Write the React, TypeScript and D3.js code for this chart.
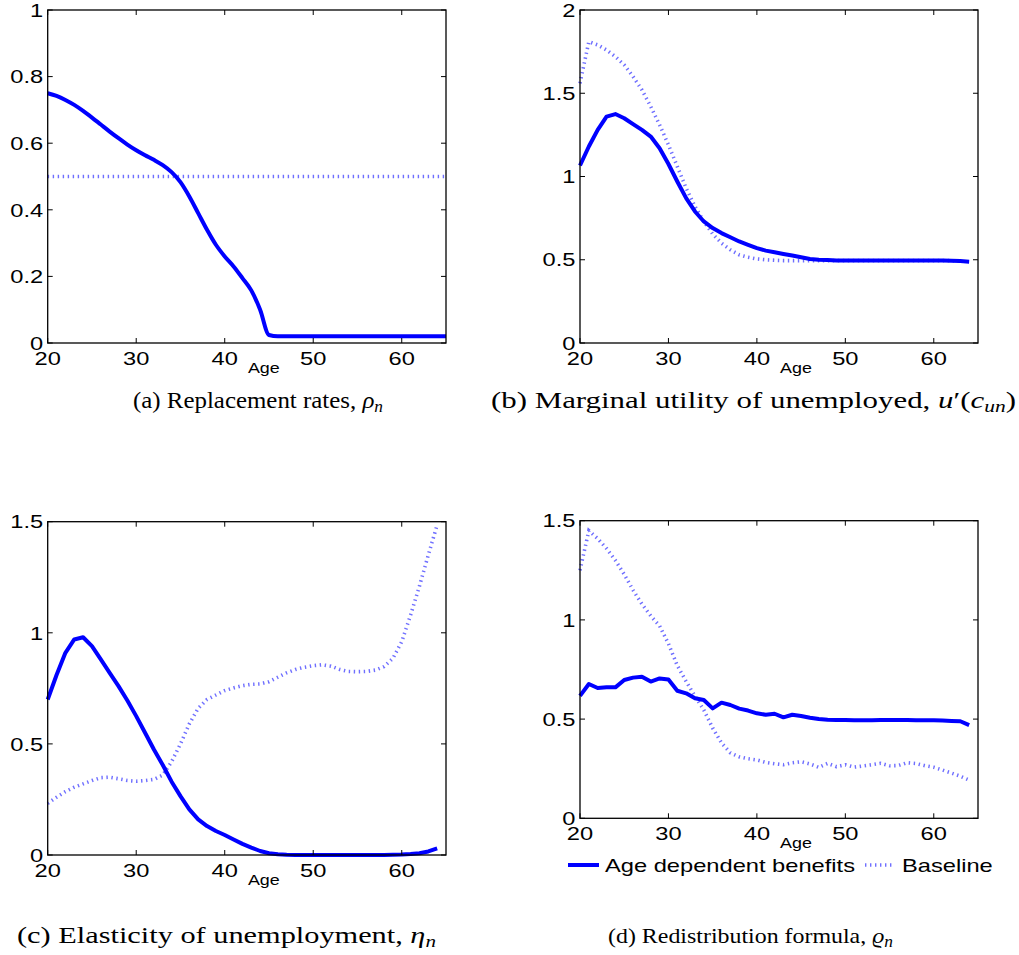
import React from "react";
import * as d3 from "d3";

// ---------- data ----------
const ages20to65 = [20,21,22,23,24,25,26,27,28,29,30,31,32,33,34,35,36,37,38,39,40,41,42,43,44,45,46,47,48,49,50,51,52,53,54,55,56,57,58,59,60,61,62,63,64,65];
const ages20to64 = [20,21,22,23,24,25,26,27,28,29,30,31,32,33,34,35,36,37,38,39,40,41,42,43,44,45,46,47,48,49,50,51,52,53,54,55,56,57,58,59,60,61,62,63,64];

// (a) Replacement rates
const replAgeDep = [0.75,0.742,0.73,0.715,0.697,0.677,0.656,0.635,0.615,0.596,0.579,0.564,0.55,0.534,0.513,0.483,0.44,0.39,0.34,0.295,0.26,0.23,0.195,0.158,0.1,0.024,
  0.02,0.02,0.02,0.02,0.02,0.02,0.02,0.02,0.02,0.02,0.02,0.02,0.02,0.02,0.02,0.02,0.02,0.02,0.02,0.02];
const replBaseline = [0.5,0.5,0.5,0.5,0.5,0.5,0.5,0.5,0.5,0.5,0.5,0.5,0.5,0.5,0.5,0.5,0.5,0.5,0.5,0.5,0.5,0.5,0.5,0.5,0.5,0.5,0.5,0.5,0.5,0.5,0.5,0.5,0.5,0.5,0.5,0.5,0.5,0.5,0.5,0.5,0.5,0.5,0.5,0.5,0.5,0.5];

// (b) Marginal utility of unemployed
const muAgeDep = [1.066,1.18,1.28,1.36,1.375,1.35,1.315,1.28,1.24,1.17,1.075,0.97,0.87,0.79,0.73,0.69,0.66,0.635,0.61,0.59,0.57,0.555,0.545,0.535,0.525,0.515,0.505,0.5,0.498,
  0.496,0.496,0.496,0.496,0.496,0.496,0.496,0.496,0.496,0.496,0.496,0.496,0.495,0.494,0.492,0.488];
const muBaseline = [1.56,1.81,1.79,1.76,1.72,1.67,1.6,1.52,1.42,1.31,1.19,1.06,0.93,0.82,0.73,0.655,0.6,0.56,0.53,0.515,0.505,0.5,0.497,
  0.495,0.495,0.495,0.495,0.495,0.495,0.495,0.495,0.495,0.495,0.495,0.495,0.495,0.495,0.495,0.495,0.495,0.495,0.495,0.495,0.49];

// (c) Elasticity of unemployment
const elAgeDep = [0.70,0.81,0.91,0.97,0.98,0.94,0.88,0.82,0.76,0.695,0.625,0.55,0.475,0.405,0.33,0.265,0.205,0.16,0.13,0.108,0.09,0.07,0.05,0.033,0.018,0.008,0.003,0.001,
  0,0,0,0,0,0,0,0,0,0,0,0.001,0.002,0.004,0.008,0.016,0.03];
const elBaseline = [0.232,0.26,0.285,0.305,0.32,0.335,0.348,0.35,0.343,0.335,0.332,0.335,0.34,0.36,0.42,0.5,0.59,0.66,0.70,0.72,0.74,0.752,0.762,0.768,0.77,0.78,0.8,0.82,0.835,0.845,0.852,0.856,0.85,0.835,0.826,0.825,0.826,0.832,0.848,0.885,0.96,1.08,1.21,1.35,1.485];

// (d) Redistribution formula
const redAgeDep = [0.617,0.677,0.657,0.66,0.66,0.697,0.709,0.714,0.689,0.705,0.70,0.643,0.63,0.605,0.596,0.554,0.583,0.571,0.553,0.543,0.529,0.522,0.527,0.509,0.522,0.516,0.507,0.5,0.497,0.495,0.495,0.494,0.494,0.494,0.495,0.496,0.496,0.495,0.494,0.494,0.494,0.493,0.491,0.489,0.47];
const redBaseline = [1.25,1.45,1.41,1.36,1.30,1.23,1.15,1.08,1.02,0.97,0.88,0.77,0.69,0.615,0.546,0.455,0.38,0.33,0.31,0.30,0.294,0.282,0.275,0.27,0.28,0.285,0.274,0.257,0.277,0.26,0.27,0.258,0.264,0.27,0.277,0.265,0.266,0.28,0.276,0.265,0.257,0.243,0.228,0.212,0.193];

const xTicks = [20, 30, 40, 50, 60];
const yTicksA = [0, 0.2, 0.4, 0.6, 0.8, 1];
const yTicksB = [0, 0.5, 1, 1.5, 2];
const yTicksCD = [0, 0.5, 1, 1.5];
const legendLabels = ["Age dependent benefits", "Baseline"];

// ---------- styles ----------
const SOLID = "#0000ff";
const DOTTED = "#6f6fff";
const SANS = "'Liberation Sans', Arial, Helvetica, sans-serif";
const SERIF = "'Liberation Serif', 'Times New Roman', serif";
const STRETCH = 1.28;

type Panel = {
  key: string;
  box: [number, number, number, number]; // left, right, top, bottom
  yMax: number;
  yTicks: number[];
  ages: number[];
  solid: number[];
  dotted: number[];
  curve: any;
};

const panels: Panel[] = [
  { key: "a", box: [47.7, 446, 10, 343], yMax: 1, yTicks: yTicksA, ages: ages20to65, solid: replAgeDep, dotted: replBaseline, curve: d3.curveMonotoneX },
  { key: "b", box: [580, 978, 10, 343], yMax: 2, yTicks: yTicksB, ages: ages20to64, solid: muAgeDep, dotted: muBaseline, curve: d3.curveLinear },
  { key: "c", box: [47.7, 446, 521.7, 855], yMax: 1.5, yTicks: yTicksCD, ages: ages20to64, solid: elAgeDep, dotted: elBaseline, curve: d3.curveLinear },
  { key: "d", box: [580, 978, 520.7, 818.3], yMax: 1.5, yTicks: yTicksCD, ages: ages20to64, solid: redAgeDep, dotted: redBaseline, curve: d3.curveLinear },
];

function SText(props: { x: number; y: number; anchor?: string; size: number; children: any }) {
  const { x, y, anchor = "middle", size, children } = props;
  return (
    <text
      transform={`translate(${x},${y}) scale(${STRETCH},1)`}
      textAnchor={anchor}
      fontFamily={SANS}
      fontSize={size}
      fill="#000"
    >
      {children}
    </text>
  );
}

function fmt(v: number) {
  return String(v);
}

function PanelView({ p }: { p: Panel }) {
  const [l, r, t, b] = p.box;
  const x = d3.scaleLinear().domain([20, 65]).range([l, r]);
  const y = d3.scaleLinear().domain([0, p.yMax]).range([b, t]);
  const line = d3
    .line<number>()
    .x((_, i) => x(p.ages[i]))
    .y((v) => y(v))
    .curve(p.curve);
  const tl = 5;
  return (
    <g>
      <path d={line(p.dotted) || ""} fill="none" stroke={DOTTED} strokeWidth={3.6} strokeDasharray="1.4 3.6" />
      <path d={line(p.solid) || ""} fill="none" stroke={SOLID} strokeWidth={4} strokeLinejoin="round" />
      <rect x={l} y={t} width={r - l} height={b - t} fill="none" stroke="#000" strokeWidth={1.3} />
      {xTicks.map((v) => (
        <g key={"x" + v}>
          <line x1={x(v)} x2={x(v)} y1={b} y2={b - tl} stroke="#000" strokeWidth={1} />
          <line x1={x(v)} x2={x(v)} y1={t} y2={t + tl} stroke="#000" strokeWidth={1} />
          <SText x={x(v)} y={b + 22} size={18.5}>{fmt(v)}</SText>
        </g>
      ))}
      {p.yTicks.map((v) => (
        <g key={"y" + v}>
          <line x1={l} x2={l + tl} y1={y(v)} y2={y(v)} stroke="#000" strokeWidth={1} />
          <line x1={r} x2={r - tl} y1={y(v)} y2={y(v)} stroke="#000" strokeWidth={1} />
          <SText x={l - 4.5} y={y(v) + 6.7} anchor="end" size={18.5}>{fmt(v)}</SText>
        </g>
      ))}
      <SText x={(l + r) / 2 + 17} y={b + 30} size={14}>Age</SText>
    </g>
  );
}

export default function App() {
  const legY = 865;
  return (
    <svg
      width={1019}
      height={955}
      style={{ position: "absolute", left: 0, top: 0, background: "#fff" }}
    >
      <rect x={0} y={0} width={1019} height={955} fill="#fff" />
      {panels.map((p) => (
        <PanelView key={p.key} p={p} />
      ))}
      {/* legend for panel d */}
      <g>
        <line x1={568} x2={599} y1={legY} y2={legY} stroke={SOLID} strokeWidth={4} />
        <SText x={605} y={legY + 6.7} anchor="start" size={18.5}>{legendLabels[0]}</SText>
        <line x1={865} x2={895} y1={legY} y2={legY} stroke={DOTTED} strokeWidth={3.6} strokeDasharray="1.4 3.6" />
        <SText x={902} y={legY + 6.7} anchor="start" size={18.5}>{legendLabels[1]}</SText>
      </g>
      {/* captions */}
      <text x={133} y={408} fontFamily={SERIF} fontSize={23} textLength={250} lengthAdjust="spacingAndGlyphs">
        (a) Replacement rates, <tspan fontStyle="italic">ρ</tspan>
        <tspan fontStyle="italic" fontSize={16} dy={4}>n</tspan>
      </text>
      <text x={491} y={408} fontFamily={SERIF} fontSize={23} textLength={525} lengthAdjust="spacingAndGlyphs">
        (b) Marginal utility of unemployed, <tspan fontStyle="italic">u</tspan>′(<tspan fontStyle="italic">c</tspan>
        <tspan fontStyle="italic" fontSize={16} dy={4}>un</tspan>
        <tspan dy={-4}>)</tspan>
      </text>
      <text x={17} y={943} fontFamily={SERIF} fontSize={23} textLength={419} lengthAdjust="spacingAndGlyphs">
        (c) Elasticity of unemployment, <tspan fontStyle="italic">η</tspan>
        <tspan fontStyle="italic" fontSize={16} dy={4}>n</tspan>
      </text>
      <text x={608} y={943} fontFamily={SERIF} fontSize={22} textLength={285} lengthAdjust="spacingAndGlyphs">
        (d) Redistribution formula, <tspan fontStyle="italic">ϱ</tspan>
        <tspan fontStyle="italic" fontSize={16} dy={4}>n</tspan>
      </text>
    </svg>
  );
}
